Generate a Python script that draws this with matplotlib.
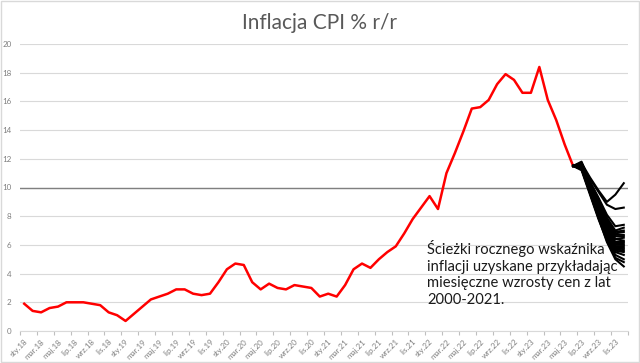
import matplotlib.pyplot as plt

# miesiace i etykiety osi X (sty.18 - gru.23)
months_pl = ['sty', 'lut', 'mar', 'kwi', 'maj', 'cze', 'lip', 'sie', 'wrz', 'paź', 'lis', 'gru']
years = ['18', '19', '20', '21', '22', '23']
labels = [m + '.' + y for y in years for m in months_pl]

# CPI r/r, sty.18 - cze.23
cpi = [1.9, 1.4, 1.3, 1.6, 1.7, 2.0, 2.0, 2.0, 1.9, 1.8, 1.3, 1.1,
       0.7, 1.2, 1.7, 2.2, 2.4, 2.6, 2.9, 2.9, 2.6, 2.5, 2.6, 3.4,
       4.3, 4.7, 4.6, 3.4, 2.9, 3.3, 3.0, 2.9, 3.2, 3.1, 3.0, 2.4,
       2.6, 2.4, 3.2, 4.3, 4.7, 4.4, 5.0, 5.5, 5.9, 6.8, 7.8, 8.6,
       9.4, 8.5, 11.0, 12.4, 13.9, 15.5, 15.6, 16.1, 17.2, 17.9, 17.5, 16.6,
       16.6, 18.4, 16.1, 14.7, 13.0, 11.5]

# sciezki cze.23 - gru.23 (miesieczne wzrosty cen z lat 2000-2021)
paths = [
    [11.5, 11.7, 10.7, 9.8, 9.0, 9.5, 10.3],
    [11.5, 11.6, 10.6, 9.7, 8.8, 8.5, 8.6],
    [11.5, 11.7, 10.4, 9.3, 8.1, 7.3, 7.4],
    [11.5, 11.6, 10.3, 9.1, 7.9, 7.0, 7.2],
    [11.5, 11.8, 10.4, 9.2, 7.8, 6.9, 7.0],
    [11.5, 11.5, 10.2, 9.0, 7.7, 6.8, 6.9],
    [11.5, 11.6, 10.2, 8.9, 7.6, 6.7, 6.7],
    [11.5, 11.4, 10.1, 8.8, 7.5, 6.6, 6.6],
    [11.5, 11.7, 10.3, 8.9, 7.4, 6.4, 6.5],
    [11.5, 11.5, 10.0, 8.7, 7.3, 6.4, 6.3],
    [11.5, 11.6, 10.1, 8.6, 7.2, 6.2, 6.2],
    [11.5, 11.4, 9.9, 8.6, 7.1, 6.1, 6.1],
    [11.5, 11.6, 10.0, 8.5, 7.0, 6.0, 6.0],
    [11.5, 11.3, 9.9, 8.4, 7.0, 5.9, 5.9],
    [11.5, 11.5, 9.8, 8.3, 6.9, 5.8, 5.8],
    [11.5, 11.4, 9.8, 8.3, 6.8, 5.8, 5.7],
    [11.5, 11.3, 9.7, 8.2, 6.7, 5.7, 5.6],
    [11.5, 11.5, 9.9, 8.1, 6.6, 5.6, 5.5],
    [11.5, 11.4, 9.7, 8.0, 6.5, 5.5, 5.3],
    [11.5, 11.3, 9.6, 7.9, 6.4, 5.3, 5.0],
    [11.5, 11.2, 9.5, 7.8, 6.3, 5.1, 4.8],
    [11.5, 11.3, 9.6, 7.9, 6.2, 5.0, 4.5],
]

plt.rcParams['font.family'] = ['Lato', 'DejaVu Sans']

fig = plt.figure(figsize=(6.4, 3.63), dpi=100)
ax = fig.add_axes([20 / 640, 32 / 363, 608 / 640, 287 / 363])

# siatka i linia 10%
ax.set_ylim(0, 20)
ax.set_yticks(range(0, 21, 2))
ax.grid(axis='y', color='#d9d9d9', lw=0.8)
ax.set_axisbelow(True)
ax.axhline(10, color='#808080', lw=1.0, zorder=1)

x_cpi = list(range(len(cpi)))
ax.plot(x_cpi, cpi, color='#ff0000', lw=1.8, zorder=3)

start = len(cpi) - 1
for p in paths:
    ax.plot(range(start, start + len(p)), p, color='black', lw=1.5, zorder=4)

ax.set_xlim(-0.5, len(labels) - 0.5)
ax.set_xticks(range(0, len(labels), 2))
ax.set_xticklabels(labels[::2], rotation=45, ha='right', rotation_mode='anchor',
                   fontsize=5.8, color='#7f7f7f')
ax.set_xticks([i - 0.5 for i in range(0, len(labels) + 1, 2)], minor=True)
ax.tick_params(axis='x', which='major', length=0, pad=5)
ax.tick_params(axis='x', which='minor', length=3, color='#bfbfbf', width=0.8)
ax.tick_params(axis='y', length=0, labelsize=5.8, labelcolor='#7f7f7f', pad=6)

for s in ['top', 'right', 'left']:
    ax.spines[s].set_visible(False)
ax.spines['bottom'].set_color('#d9d9d9')

fig.text(0.5, 1 - 23 / 363, 'Inflacja CPI % r/r', ha='center', va='center',
         fontsize=15, color='#595959')

ax.text(0.670, 0.20, 'Ścieżki rocznego wskaźnika\ninflacji uzyskane przykładając\n'
        'miesięczne wzrosty cen z lat\n2000-2021.', transform=ax.transAxes,
        fontsize=10.6, color='#1a1a1a', va='center', ha='left', linespacing=1.22)

# ramka wykresu
fig.patches.append(plt.Rectangle((0.002, 0.003), 0.996, 0.994, transform=fig.transFigure,
                                 fill=False, ec='#d9d9d9', lw=1))

fig.savefig('out.png', dpi=100, facecolor='white')
